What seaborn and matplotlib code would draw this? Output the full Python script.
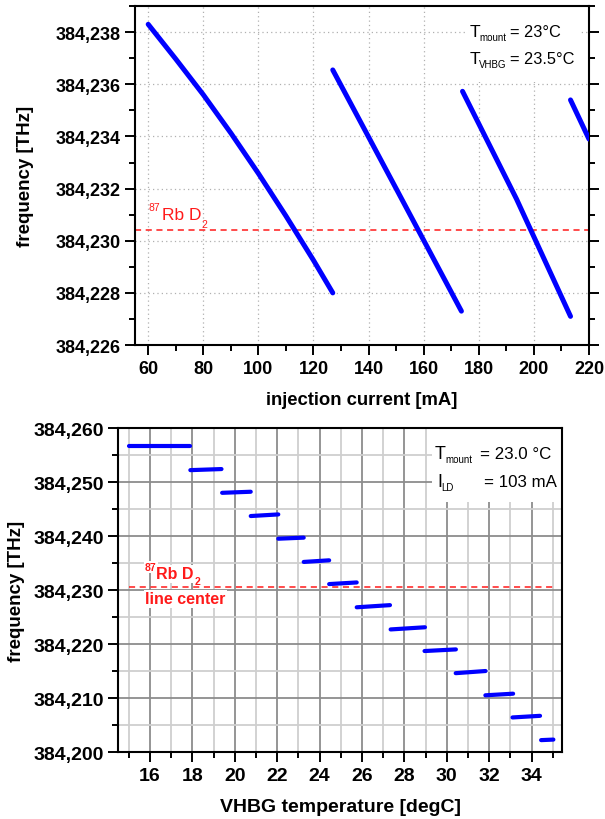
import numpy as np
import pandas as pd
import matplotlib
matplotlib.use("Agg")
import matplotlib.pyplot as plt
import seaborn as sns
from matplotlib.ticker import MultipleLocator, FuncFormatter
from matplotlib.patches import Rectangle

# ---------------- data: top panel (frequency vs injection current) ----------------
seg_a_current = [60, 70, 80, 90, 100, 110, 120, 127]
seg_a_freq = [384.2383, 384.23697, 384.2356, 384.23413, 384.23258, 384.23095, 384.22925, 384.2280]
seg_b_current = [127, 150, 173.7]
seg_b_freq = [384.23655, 384.23200, 384.22730]
seg_c_current = [174.1, 193.7, 213.3]
seg_c_freq = [384.23573, 384.23160, 384.22710]
seg_d_current = [213.3, 220]
seg_d_freq = [384.2354, 384.2339]
rb_d2_line = 384.2304

# ---------------- data: bottom panel (frequency vs VHBG temperature) ----------------
vhbg_start = [15.0, 17.9, 19.4, 20.75, 22.05, 23.25, 24.45, 25.75, 27.35, 28.95, 30.42, 31.82, 33.1, 34.45]
vhbg_end = [17.88, 19.37, 20.75, 22.05, 23.25, 24.45, 25.75, 27.32, 28.97, 30.43, 31.83, 33.13, 34.40, 35.03]
freq_start = [384.2567, 384.2522, 384.2480, 384.2437, 384.2395, 384.2352, 384.2311, 384.2268,
              384.2227, 384.2187, 384.2146, 384.2105, 384.2064, 384.2022]
freq_end = [384.2567, 384.2524, 384.2482, 384.2440, 384.2397, 384.2355, 384.2314, 384.2272,
            384.2231, 384.2190, 384.2150, 384.2108, 384.2067, 384.2023]
rb_line_bottom = 384.2305

sns.set_theme(style="ticks")
plt.rcParams["font.family"] = ["Liberation Sans", "DejaVu Sans"]
for k in ["text.color", "axes.labelcolor", "xtick.color", "ytick.color", "axes.edgecolor"]:
    plt.rcParams[k] = "black"

fig = plt.figure(figsize=(6.05, 8.2), dpi=100)
ax1 = fig.add_axes([0.2231, 0.578, 0.7504, 0.4134])
ax2 = fig.add_axes([0.1955, 0.0817, 0.7339, 0.3951])

comma = FuncFormatter(lambda v, p: f"{v:.3f}".replace(".", ","))
RED = "#ff1a1a"

# ---------------- top panel ----------------
top_rows = []
for name, cur, fr in [("a", seg_a_current, seg_a_freq), ("b", seg_b_current, seg_b_freq),
                      ("c", seg_c_current, seg_c_freq), ("d", seg_d_current, seg_d_freq)]:
    for c, f in zip(cur, fr):
        top_rows.append({"seg": name, "current": c, "freq": f})
df_top = pd.DataFrame(top_rows)
sns.lineplot(data=df_top, x="current", y="freq", units="seg", estimator=None, sort=False,
             color="#0000ff", lw=3.6, solid_capstyle="round", solid_joinstyle="round",
             ax=ax1, zorder=3)
ax1.axhline(rb_d2_line, color=RED, lw=1.1, ls=(0, (4, 3)), zorder=2)

ax1.set_xlim(55.2, 220)
ax1.set_ylim(384.226, 384.239)
ax1.xaxis.set_major_locator(MultipleLocator(20))
ax1.xaxis.set_minor_locator(MultipleLocator(10))
ax1.yaxis.set_major_locator(MultipleLocator(0.002))
ax1.yaxis.set_minor_locator(MultipleLocator(0.001))
ax1.yaxis.set_major_formatter(comma)
ax1.grid(True, which="major", color="#b0b0b0", lw=0.9, ls=(0, (1, 2.5)))
ax1.set_axisbelow(True)
ax1.tick_params(which="both", direction="out", width=1.4, labelsize=13)
ax1.tick_params(which="major", length=7)
ax1.tick_params(which="minor", length=4)
ax1.tick_params(axis="y", which="both", right=True, labelright=False)
for lab in ax1.get_xticklabels() + ax1.get_yticklabels():
    lab.set_fontweight("bold")
for s in ax1.spines.values():
    s.set_linewidth(1.5)
ax1.set_xlabel("injection current [mA]", fontsize=13.3, fontweight="bold")
ax1.set_ylabel("frequency [THz]", fontsize=13.5, fontweight="bold")
ax1.xaxis.set_label_coords(0.5, -0.135)
ax1.yaxis.set_label_coords(-0.222, 0.5)

ax1.add_patch(Rectangle((0.733, 0.776), 0.247, 0.224, transform=ax1.transAxes,
                        facecolor="white", edgecolor="none", zorder=1))
kw1 = dict(transform=ax1.transAxes, zorder=4, va="baseline")
ax1.text(0.7379, 0.9124, "T", fontsize=12.5, **kw1)
ax1.text(0.7577, 0.9006, "mount", fontsize=7, **kw1)
ax1.text(0.826, 0.9124, "= 23°C", fontsize=11.8, **kw1)
ax1.text(0.7379, 0.8319, "T", fontsize=12.5, **kw1)
ax1.text(0.7577, 0.8201, "VHBG", fontsize=7, **kw1)
ax1.text(0.826, 0.8319, "= 23.5°C", fontsize=11.8, **kw1)

ax1.text(60.1, 384.23118, "87", color=RED, fontsize=7.5, va="baseline", zorder=4)
ax1.text(65.0, 384.23083, "Rb D", color=RED, fontsize=12.5, va="baseline", zorder=4)
ax1.text(79.3, 384.23053, "2", color=RED, fontsize=7.5, va="baseline", zorder=4)

# ---------------- bottom panel ----------------
bot_rows = []
for i, (x0, x1, f0, f1) in enumerate(zip(vhbg_start, vhbg_end, freq_start, freq_end)):
    bot_rows.append({"seg": i, "temp": x0, "freq": f0})
    bot_rows.append({"seg": i, "temp": x1, "freq": f1})
df_bot = pd.DataFrame(bot_rows)
sns.lineplot(data=df_bot, x="temp", y="freq", units="seg", estimator=None, sort=False,
             color="#0000ff", lw=3.0, solid_capstyle="round", ax=ax2, zorder=4)

ax2.set_xlim(14.5, 35.45)
ax2.set_ylim(384.200, 384.260)
ax2.xaxis.set_major_locator(MultipleLocator(2))
ax2.xaxis.set_minor_locator(MultipleLocator(1))
ax2.yaxis.set_major_locator(MultipleLocator(0.010))
ax2.yaxis.set_minor_locator(MultipleLocator(0.005))
ax2.yaxis.set_major_formatter(comma)
ax2.set_axisbelow(True)
ax2.grid(True, which="major", color="#8c8c8c", lw=1.3)
ax2.grid(True, which="minor", color="#cfcfcf", lw=1.3)
ax2.tick_params(which="both", direction="out", width=1.4, labelsize=14)
ax2.tick_params(which="major", length=7)
ax2.tick_params(which="minor", length=4)
for lab in ax2.get_xticklabels() + ax2.get_yticklabels():
    lab.set_fontweight("bold")
for s in ax2.spines.values():
    s.set_linewidth(1.5)
    s.set_zorder(6)
ax2.set_xlabel("VHBG temperature [degC]", fontsize=14, fontweight="bold")
ax2.set_ylabel("frequency [THz]", fontsize=13.5, fontweight="bold")
ax2.xaxis.set_label_coords(0.5, -0.142)
ax2.yaxis.set_label_coords(-0.21, 0.5)

ax2.add_patch(Rectangle((0.707, 0.772), 0.293, 0.228, transform=ax2.transAxes,
                        facecolor="white", edgecolor="none", zorder=1))
kw2 = dict(transform=ax2.transAxes, zorder=5, va="baseline")
ax2.text(0.7133, 0.9083, "T", fontsize=13, **kw2)
ax2.text(0.7358, 0.8960, "mount", fontsize=7, **kw2)
ax2.text(0.8146, 0.9083, "= 23.0 °C", fontsize=12.2, **kw2)
ax2.text(0.7178, 0.8210, "I", fontsize=13, **kw2)
ax2.text(0.7268, 0.8086, "LD", fontsize=7, **kw2)
ax2.text(0.8243, 0.8210, "= 103 mA", fontsize=12.2, **kw2)

box = dict(facecolor="white", edgecolor="none", pad=1.0)
ax2.text(15.76, 384.2337, "87", color=RED, fontsize=7.5, fontweight="bold", va="baseline",
         bbox=box, zorder=2)
ax2.text(16.27, 384.23217, "Rb D", color=RED, fontsize=11.5, fontweight="bold", va="baseline",
         bbox=box, zorder=2)
ax2.text(18.1, 384.23111, "2", color=RED, fontsize=7.5, fontweight="bold", va="baseline",
         bbox=box, zorder=2)
ax2.text(15.76, 384.22754, "line center", color=RED, fontsize=11.5, fontweight="bold",
         va="baseline", bbox=box, zorder=2)
ax2.plot([15.0, 35.0], [rb_line_bottom, rb_line_bottom], color=RED, lw=1.1,
         ls=(0, (4, 3)), zorder=3)

fig.savefig("out.png", dpi=100)
